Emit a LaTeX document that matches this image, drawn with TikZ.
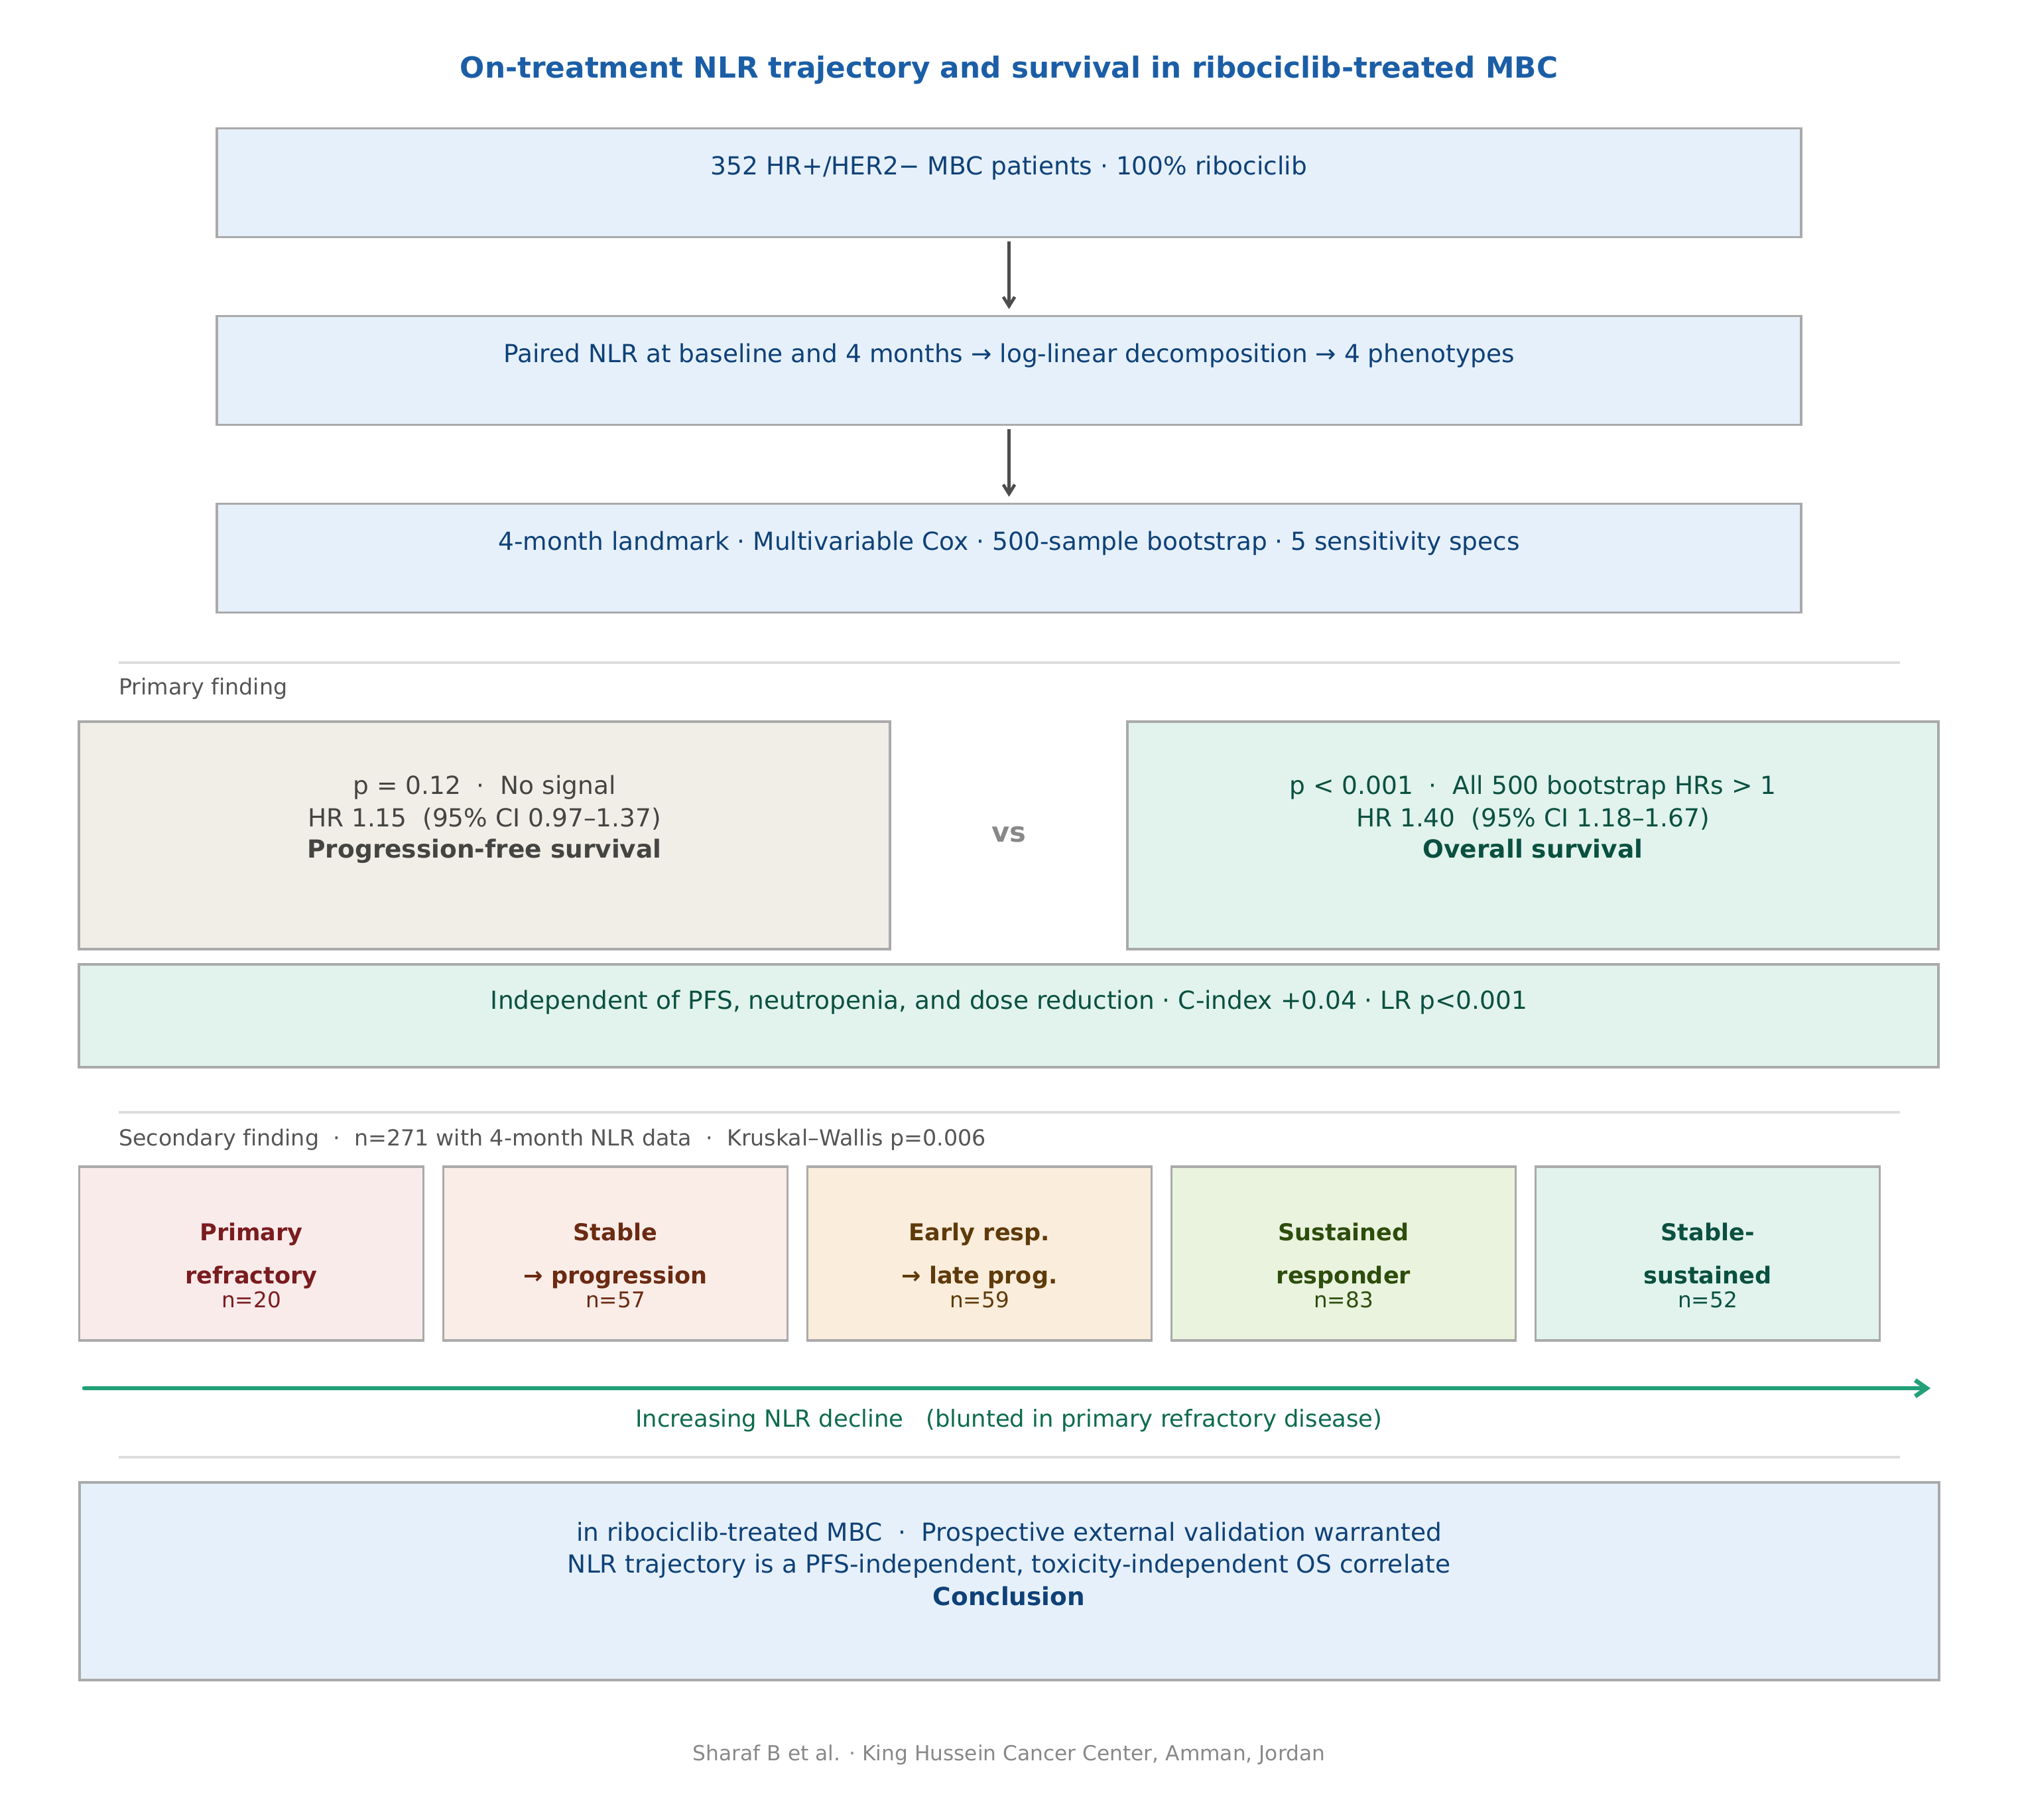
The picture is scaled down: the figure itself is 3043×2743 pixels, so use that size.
\documentclass[tikz,border=0pt]{standalone}
\usepackage{fontspec}
\setmainfont{DejaVu Sans}[Ligatures=NoCommon]
\usetikzlibrary{arrows.meta,fit}
\definecolor{titleblue}{HTML}{1B5EA6}
\definecolor{bluefill}{HTML}{E6F0FA}
\definecolor{bluetext}{HTML}{0E4177}
\definecolor{border}{HTML}{AAAAAA}
\definecolor{sepgray}{HTML}{DDDDDD}
\definecolor{labgray}{HTML}{555555}
\definecolor{footgray}{HTML}{888888}
\definecolor{pfsfill}{HTML}{F1EEE8}
\definecolor{pfstext}{HTML}{444441}
\definecolor{osfill}{HTML}{E1F3EC}
\definecolor{ostext}{HTML}{0A5040}
\definecolor{arrgray}{HTML}{4D4D4D}
\definecolor{ponefill}{HTML}{FAEBEB}
\definecolor{ponetext}{HTML}{7A1C1F}
\definecolor{ptwofill}{HTML}{FAEDE8}
\definecolor{ptwotext}{HTML}{6B2A12}
\definecolor{pthreefill}{HTML}{FAEDDC}
\definecolor{pthreetext}{HTML}{5F3A0A}
\definecolor{pfourfill}{HTML}{EAF3DE}
\definecolor{pfourtext}{HTML}{2D4D0C}
\definecolor{pfivefill}{HTML}{E1F3EC}
\definecolor{pfivetext}{HTML}{0A5040}
\definecolor{greenarrow}{HTML}{22A077}
\definecolor{greenlabel}{HTML}{0E6B4E}
\tikzset{
  x=0.288pt, y=-0.288pt,
  box/.style={draw=border, line width=0.9pt, inner sep=0pt},
  txt/.style={anchor=base, inner sep=0pt, align=center},
  ltxt/.style={anchor=base west, inner sep=0pt},
  fbody/.style={font=\fontsize{10.8}{12.8}\selectfont},
  fbodyb/.style={font=\fontsize{10.8}{12.8}\selectfont\bfseries},
  fphb/.style={font=\fontsize{10.1}{12}\selectfont\bfseries},
  fn/.style={font=\fontsize{9.4}{11}\selectfont},
  fsec/.style={font=\fontsize{9.6}{11.5}\selectfont},
  sepline/.style={draw=sepgray, line width=0.9pt},
  darrow/.style={draw=arrgray, line width=1.35pt, -{Straight Barb[length=4pt,width=5pt]}, shorten <=1.5pt, shorten >=2.6pt},
  garrow/.style={draw=greenarrow, line width=1.9pt, line cap=round, -{Straight Barb[length=5pt,width=7pt]}}
}
\begin{document}
\begin{tikzpicture}
\useasboundingbox[fill=white] (0,0) rectangle (3043,2743);
% title
\node[txt, font=\fontsize{12.6}{15}\selectfont\bfseries, text=titleblue] (title) at (1521.5,117) {On-treatment NLR trajectory and survival in ribociclib-treated MBC};
% pipeline boxes
\node[box, fill=bluefill, fit={(327,193.5)(2716,357.5)}] (b1) {};
\node[box, fill=bluefill, fit={(327,476.5)(2716,640.5)}] (b2) {};
\node[box, fill=bluefill, fit={(327,759.5)(2716,923.5)}] (b3) {};
\node[txt, fbody, text=bluetext] (t1) at (1521.5,263) {352 HR+/HER2− MBC patients · 100\% ribociclib};
\node[txt, fbody, text=bluetext] (t2) at (1521.5,546) {Paired NLR at baseline and 4 months → log-linear decomposition → 4 phenotypes};
\node[txt, fbody, text=bluetext] (t3) at (1521.5,829) {4-month landmark · Multivariable Cox · 500-sample bootstrap · 5 sensitivity specs};
\draw[darrow] (b1) -- (b2);
\draw[darrow] (b2) -- (b3);
% separators
\coordinate (s1a) at (178.5,999); \coordinate (s1b) at (2865,999);
\coordinate (s2a) at (178.5,1677); \coordinate (s2b) at (2865,1677);
\coordinate (s3a) at (178.5,2197); \coordinate (s3b) at (2865,2197);
\draw[sepline] (s1a) -- (s1b);
\draw[sepline] (s2a) -- (s2b);
\draw[sepline] (s3a) -- (s3b);
\node[ltxt, fsec, text=labgray] (lab1) at (178.5,1047) {Primary finding};
\node[ltxt, fsec, text=labgray] (lab2) at (178.5,1727) {Secondary finding~~·~~n=271 with 4-month NLR data~~·~~Kruskal–Wallis p=0.006};
% primary finding
\node[box, fill=pfsfill, fit={(119,1088)(1342,1431)}] (pfs) {};
\node[box, fill=osfill, fit={(1700,1088)(2923,1431)}] (os) {};
\node[txt, fbody, text=pfstext] (pfs1) at (730.5,1197) {p = 0.12~~·~~No signal};
\node[txt, fbody, text=pfstext] (pfs2) at (730.5,1246) {HR 1.15~~(95\% CI 0.97–1.37)};
\node[txt, fbodyb, text=pfstext] (pfs3) at (730.5,1293) {Progression-free survival};
\node[txt, fbody, text=ostext] (os1) at (2311.5,1197) {p < 0.001~~·~~All 500 bootstrap HRs > 1};
\node[txt, fbody, text=ostext] (os2) at (2311.5,1246) {HR 1.40~~(95\% CI 1.18–1.67)};
\node[txt, fbodyb, text=ostext] (os3) at (2311.5,1293) {Overall survival};
\node[txt, font=\fontsize{12}{14}\selectfont\bfseries, text=footgray] (vs) at (1521.5,1269) {vs};
\node[box, fill=osfill, fit={(119,1454)(2923,1609)}] (indep) {};
\node[txt, fbody, text=ostext] (indept) at (1521.5,1521) {Independent of PFS, neutropenia, and dose reduction · C-index +0.04 · LR p<0.001};
% phenotypes
\node[box, fill=ponefill, fit={(119.5,1759)(638.5,2021)}] (p1) {};
\node[box, fill=ptwofill, fit={(668.5,1759)(1187.5,2021)}] (p2) {};
\node[box, fill=pthreefill, fit={(1217.5,1759)(1736.5,2021)}] (p3) {};
\node[box, fill=pfourfill, fit={(1766.5,1759)(2285.5,2021)}] (p4) {};
\node[box, fill=pfivefill, fit={(2315.5,1759)(2834.5,2021)}] (p5) {};
\node[txt, fphb, text=ponetext] (p1a) at (379,1870) {Primary};
\node[txt, fphb, text=ponetext] (p1b) at (379,1935) {refractory};
\node[txt, fn, text=ponetext] (p1c) at (379,1971) {n=20};
\node[txt, fphb, text=ptwotext] (p2a) at (928,1870) {Stable};
\node[txt, fphb, text=ptwotext] (p2b) at (928,1935) {→ progression};
\node[txt, fn, text=ptwotext] (p2c) at (928,1971) {n=57};
\node[txt, fphb, text=pthreetext] (p3a) at (1477,1870) {Early resp.};
\node[txt, fphb, text=pthreetext] (p3b) at (1477,1935) {→ late prog.};
\node[txt, fn, text=pthreetext] (p3c) at (1477,1971) {n=59};
\node[txt, fphb, text=pfourtext] (p4a) at (2026,1870) {Sustained};
\node[txt, fphb, text=pfourtext] (p4b) at (2026,1935) {responder};
\node[txt, fn, text=pfourtext] (p4c) at (2026,1971) {n=83};
\node[txt, fphb, text=pfivetext] (p5a) at (2575,1870) {Stable-};
\node[txt, fphb, text=pfivetext] (p5b) at (2575,1935) {sustained};
\node[txt, fn, text=pfivetext] (p5c) at (2575,1971) {n=52};
% gradient arrow
\coordinate (ga) at (127,2093);
\coordinate (gb) at (2911,2093);
\draw[garrow] (ga) -- (gb);
\node[txt, font=\fontsize{10.2}{12}\selectfont, text=greenlabel] (glab) at (1521.5,2151) {Increasing NLR decline~~~(blunted in primary refractory disease)};
% conclusion
\node[box, fill=bluefill, fit={(120,2235)(2924,2533)}] (concl) {};
\node[txt, fbody, text=bluetext] (c1) at (1521.5,2323) {in ribociclib-treated MBC~~·~~Prospective external validation warranted};
\node[txt, fbody, text=bluetext] (c2) at (1521.5,2371) {NLR trajectory is a PFS-independent, toxicity-independent OS correlate};
\node[txt, fbodyb, text=bluetext] (c3) at (1521.5,2420) {Conclusion};
% footer
\node[txt, font=\fontsize{9}{11}\selectfont, text=footgray] (foot) at (1521.5,2654) {Sharaf B et al. · King Hussein Cancer Center, Amman, Jordan};
\end{tikzpicture}
\end{document}
